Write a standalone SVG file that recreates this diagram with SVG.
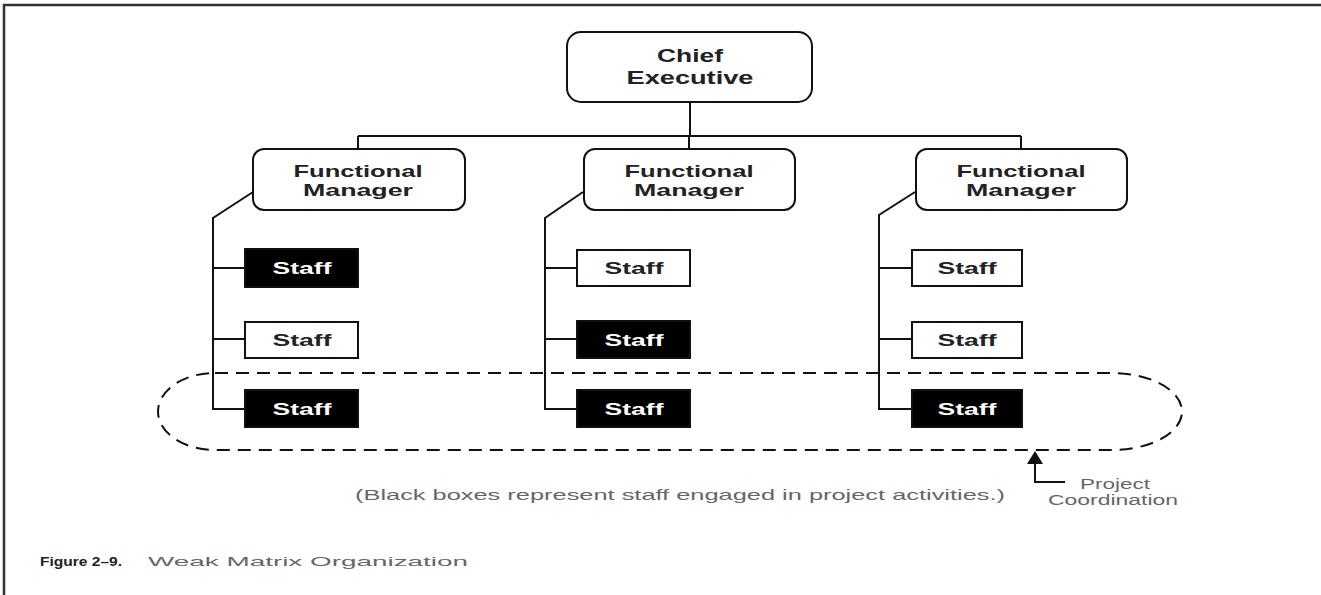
<svg xmlns="http://www.w3.org/2000/svg" width="1321" height="595" viewBox="0 0 1321 595">
<style>
.box{fill:#fff;stroke:#111;stroke-width:2}
.blk{fill:#000;stroke:#111;stroke-width:2}
.wht{fill:#fff;stroke:#111;stroke-width:2}
.ln{fill:none;stroke:#111;stroke-width:2}
.t{font-family:"Liberation Sans",Arial,sans-serif;font-weight:bold;text-anchor:middle;fill:#222}
.tw{font-family:"Liberation Sans",Arial,sans-serif;font-weight:bold;text-anchor:middle;fill:#fff}
.g{font-family:"Liberation Sans",Arial,sans-serif;fill:#666}
</style>
<rect width="1321" height="595" fill="#fff"/>
<path d="M4 595 V5 H1321" fill="none" stroke="#333" stroke-width="2.5"/>

<g id="connectors">
<path class="ln" d="M690 102 V136 M358 136 H1021 M358 136 V149 M689 136 V149 M1021 136 V149"/>
<path class="ln" d="M253 192 L213 218 V409 H245 M213 268 H245 M213 339 H245"/>
<path class="ln" d="M583 192 L545 218 V409 H577 M545 268 H577 M545 339 H577"/>
<path class="ln" d="M915 192 L879 215 V409 H912 M879 268 H912 M879 339 H912"/>
</g>

<g id="chief">
<rect class="box" x="567" y="32" width="245" height="70" rx="14"/>
<text class="t" x="690" y="62" font-size="18" textLength="66" lengthAdjust="spacingAndGlyphs">Chief</text>
<text class="t" x="690" y="84" font-size="18" textLength="127" lengthAdjust="spacingAndGlyphs">Executive</text>
</g>

<g id="fm1">
<rect class="box" x="253" y="149" width="212" height="61" rx="11"/>
<text class="t" x="358" y="177" font-size="17" textLength="129" lengthAdjust="spacingAndGlyphs">Functional</text>
<text class="t" x="358" y="196" font-size="17" textLength="110" lengthAdjust="spacingAndGlyphs">Manager</text>
</g>
<g id="fm2">
<rect class="box" x="584" y="149" width="211" height="61" rx="11"/>
<text class="t" x="689" y="177" font-size="17" textLength="129" lengthAdjust="spacingAndGlyphs">Functional</text>
<text class="t" x="689" y="196" font-size="17" textLength="110" lengthAdjust="spacingAndGlyphs">Manager</text>
</g>
<g id="fm3">
<rect class="box" x="916" y="149" width="211" height="61" rx="11"/>
<text class="t" x="1021" y="177" font-size="17" textLength="129" lengthAdjust="spacingAndGlyphs">Functional</text>
<text class="t" x="1021" y="196" font-size="17" textLength="110" lengthAdjust="spacingAndGlyphs">Manager</text>
</g>

<g id="s11"><rect class="blk" x="245" y="249" width="113" height="38"/><text class="tw" x="302" y="274" font-size="16" textLength="59" lengthAdjust="spacingAndGlyphs">Staff</text></g>
<g id="s12"><rect class="wht" x="245" y="322" width="113" height="36"/><text class="t" x="302" y="346" font-size="16" textLength="59" lengthAdjust="spacingAndGlyphs">Staff</text></g>
<g id="s13"><rect class="blk" x="245" y="390" width="113" height="37"/><text class="tw" x="302" y="415" font-size="16" textLength="59" lengthAdjust="spacingAndGlyphs">Staff</text></g>

<g id="s21"><rect class="wht" x="577" y="250" width="113" height="36"/><text class="t" x="634" y="274" font-size="16" textLength="59" lengthAdjust="spacingAndGlyphs">Staff</text></g>
<g id="s22"><rect class="blk" x="577" y="321" width="113" height="37"/><text class="tw" x="634" y="346" font-size="16" textLength="59" lengthAdjust="spacingAndGlyphs">Staff</text></g>
<g id="s23"><rect class="blk" x="577" y="390" width="113" height="37"/><text class="tw" x="634" y="415" font-size="16" textLength="59" lengthAdjust="spacingAndGlyphs">Staff</text></g>

<g id="s31"><rect class="wht" x="912" y="250" width="110" height="36"/><text class="t" x="967" y="274" font-size="16" textLength="59" lengthAdjust="spacingAndGlyphs">Staff</text></g>
<g id="s32"><rect class="wht" x="912" y="322" width="110" height="36"/><text class="t" x="967" y="346" font-size="16" textLength="59" lengthAdjust="spacingAndGlyphs">Staff</text></g>
<g id="s33"><rect class="blk" x="912" y="390" width="110" height="37"/><text class="tw" x="967" y="415" font-size="16" textLength="59" lengthAdjust="spacingAndGlyphs">Staff</text></g>

<g id="project-coordination">
<path d="M215 373 H1112 A70 38.5 0 0 1 1112 450 H215 A57 38.5 0 0 1 215 373 Z" fill="none" stroke="#111" stroke-width="2" stroke-dasharray="13 8"/>
<path class="ln" d="M1035 462 V482 H1065"/>
<polygon points="1035,451 1027,464 1043,464" fill="#111"/>
<text class="g" x="1115" y="489" font-size="14" text-anchor="middle" textLength="70" lengthAdjust="spacingAndGlyphs">Project</text>
<text class="g" x="1113" y="505" font-size="14" text-anchor="middle" textLength="130" lengthAdjust="spacingAndGlyphs">Coordination</text>
</g>

<text class="g" x="680" y="500" font-size="15" text-anchor="middle" textLength="650" lengthAdjust="spacingAndGlyphs">(Black boxes represent staff engaged in project activities.)</text>
<text x="40" y="566" font-family="'Liberation Sans',Arial,sans-serif" font-weight="bold" font-size="12" fill="#222" textLength="82" lengthAdjust="spacingAndGlyphs">Figure 2–9.</text>
<text class="g" x="148" y="566" font-size="13" textLength="320" lengthAdjust="spacingAndGlyphs">Weak Matrix Organization</text>
</svg>
